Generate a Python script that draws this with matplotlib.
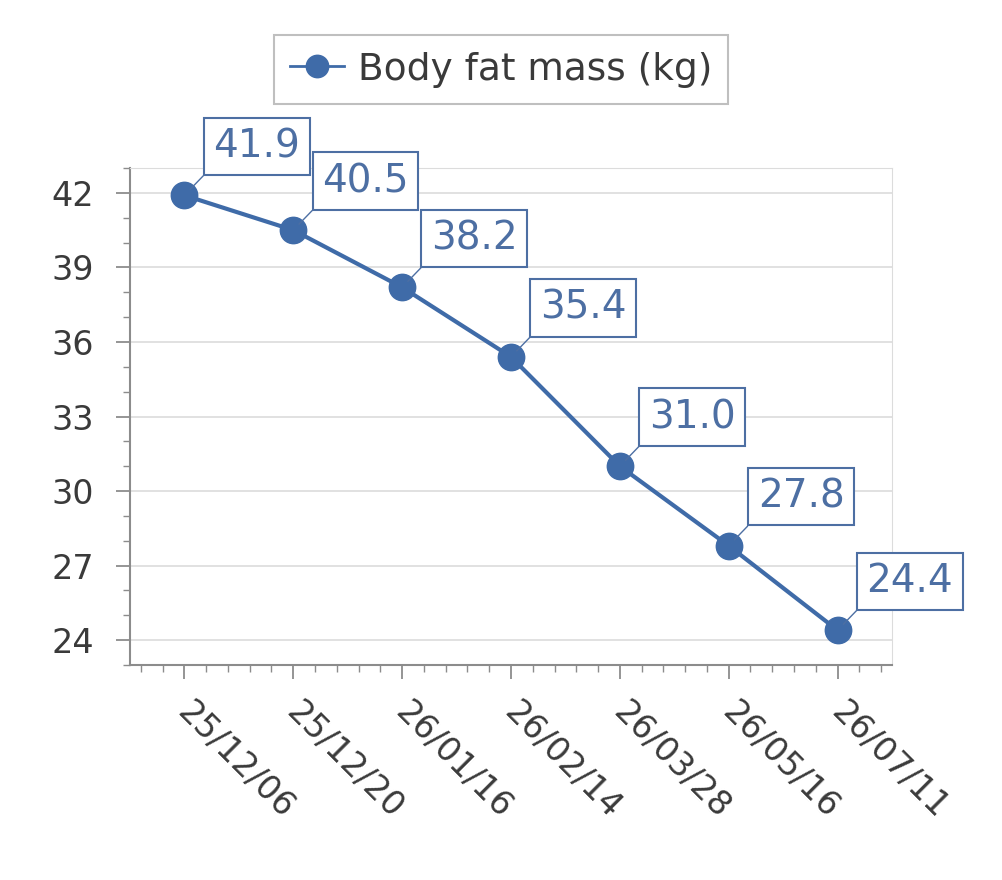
import numpy as np
import matplotlib
matplotlib.use('Agg')
from matplotlib import pyplot as plt
from matplotlib.ticker import MultipleLocator
from matplotlib.transforms import ScaledTranslation

dates = ['25/12/06', '25/12/20', '26/01/16', '26/02/14', '26/03/28', '26/05/16', '26/07/11']
fat_mass = [41.9, 40.5, 38.2, 35.4, 31.0, 27.8, 24.4]
series_name = 'Body fat mass (kg)'

blue = '#3f6ba8'
label_blue = '#4d6fa3'
text_col = '#3a3a3a'
axis_col = '#8c8c8c'
grid_col = '#dcdcdc'

plt.rcParams['font.family'] = ['DejaVu Sans']

fig = plt.figure(figsize=(10.02, 8.8), dpi=100)
ax = fig.add_axes([0.1297, 0.2443, 0.7605, 0.5648])

x = np.arange(len(dates))
ax.plot(x, fat_mass, color=blue, lw=3, marker='o', ms=19, mec=blue, mfc=blue,
        label=series_name, zorder=3)

for xi, v in zip(x, fat_mass):
    ax.annotate('%.1f' % v, xy=(xi, v), xytext=(29, 30), textcoords='offset pixels',
                ha='left', va='bottom', fontsize=28, color=label_blue,
                bbox=dict(boxstyle='square,pad=0.25', fc='white', ec=label_blue, lw=1.5),
                arrowprops=dict(arrowstyle='-', color=label_blue, lw=1, relpos=(0, 0),
                                shrinkA=0, shrinkB=6),
                zorder=4)

ax.set_xlim(-0.5, 6.5)
ax.set_ylim(23, 43)
ax.set_xticks(x)
ax.set_xticklabels(dates, rotation=-45, ha='left', va='top', rotation_mode='anchor')
ax.xaxis.set_minor_locator(MultipleLocator(0.2))
ax.set_yticks(np.arange(24, 43, 3))
ax.yaxis.set_minor_locator(MultipleLocator(1))

ax.grid(axis='y', color=grid_col, lw=1.2, zorder=0)
ax.axhline(43, color=grid_col, lw=1.2, zorder=0)
ax.set_axisbelow(True)

for s in ['top', 'right']:
    ax.spines[s].set_color(grid_col)
for s in ['left', 'bottom']:
    ax.spines[s].set_color(axis_col)
    ax.spines[s].set_linewidth(1.5)

ax.tick_params(axis='both', which='major', direction='out', length=10, width=1.3,
               color=axis_col, labelsize=24, labelcolor=text_col)
ax.tick_params(axis='both', which='minor', direction='out', length=5, width=1,
               color=axis_col)
ax.tick_params(axis='y', which='major', pad=16)
ax.tick_params(axis='x', which='major', pad=12)

shift = ScaledTranslation(10 / 100, 0, fig.dpi_scale_trans)
for lab in ax.get_xticklabels():
    lab.set_transform(lab.get_transform() + shift)

leg = fig.legend(loc='center', bbox_to_anchor=(0.5, 0.921), fontsize=27, frameon=True,
                 fancybox=False, edgecolor='#b0b0b0', handlelength=1.45, borderpad=0.43,
                 handletextpad=0.35, markerscale=0.85)
for t in leg.get_texts():
    t.set_color(text_col)
for ln in leg.get_lines():
    ln.set_linewidth(2)
leg.get_frame().set_linewidth(1.5)

fig.savefig('out.png', dpi=100)
